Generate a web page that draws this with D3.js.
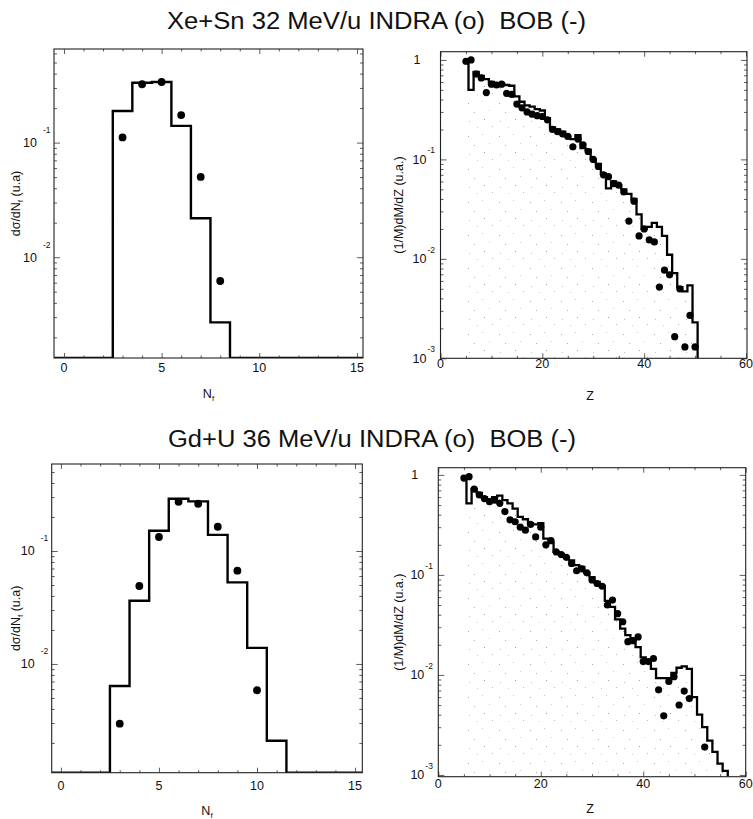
<!DOCTYPE html>
<html>
<head>
<meta charset="utf-8">
<script src="https://cdn.jsdelivr.net/npm/d3@7"></script>
<style>
body { margin: 0; background: #fff; }
text { font-family: "Liberation Sans", Arial, Helvetica, sans-serif; fill: #111; }
</style>
</head>
<body>
<svg id="fig" width="753" height="819"></svg>
<script>
// ---- data ----
var titles = ["Xe+Sn 32 MeV/u INDRA (o)  BOB (-)", "Gd+U 36 MeV/u INDRA (o)  BOB (-)"];

// fragment multiplicity N_f (bins 0..15)
var nf = [0, 1, 2, 3, 4, 5, 6, 7, 8, 9, 10, 11, 12, 13, 14, 15];
var xeNfSim = [0, 0, 0, 0.189, 0.333, 0.338, 0.14, 0.0219, 0.0027, 0, 0, 0, 0, 0, 0, 0];
var xeNfPts = [3, 4, 5, 6, 7, 8];
var xeNfExp = [0.111, 0.323, 0.338, 0.174, 0.0502, 0.0062];

var gdNfSim = [0, 0, 0, 0.00638, 0.0363, 0.151, 0.29, 0.275, 0.139, 0.0528, 0.01387, 0.00209, 0, 0, 0, 0];
var gdNfPts = [3, 4, 5, 6, 7, 8, 9, 10];
var gdNfExp = [0.00296, 0.049, 0.133, 0.273, 0.262, 0.164, 0.067, 0.00585];

// charge distributions
var xeZ = [5, 6, 7, 8, 9, 10, 11, 12, 13, 14, 15, 16, 17, 18, 19, 20, 21, 22, 23, 24, 25, 26, 27,
           28, 29, 30, 31, 32, 33, 34, 35, 36, 37, 38, 39, 40, 41, 42, 43, 44, 45, 46, 47, 48, 49, 50];
var xeZSim = [0.93, 0.5, 0.76, 0.69, 0.64, 0.6, 0.58, 0.58, 0.56, 0.55,
              0.43, 0.38, 0.35, 0.34, 0.32, 0.31, 0.26, 0.21, 0.2, 0.19,
              0.17, 0.16, 0.175, 0.13, 0.125, 0.1, 0.09, 0.072, 0.051, 0.06,
              0.055, 0.05, 0.045, 0.04, 0.028, 0.02, 0.021, 0.023, 0.021, 0.017,
              0.011, 0.0072, 0.0052, 0.0047, 0.0054, 0.0023];
var xeZExp = [0.97, 1.0, 0.72, 0.66, 0.47, 0.57, 0.56, 0.57, 0.46, 0.45,
              0.36, 0.33, 0.30, 0.285, 0.275, 0.27, 0.25, 0.2, 0.19, 0.18,
              0.17, 0.134, 0.16, 0.14, 0.12, 0.1, 0.085, 0.07, 0.067, 0.057,
              0.055, 0.047, 0.024, 0.038, 0.017, 0.020, 0.0155, 0.0148, 0.0052, 0.0077,
              0.0069, 0.00165, 0.0050, 0.0013, 0.0027, 0.0013];

var gdZ = [5, 6, 7, 8, 9, 10, 11, 12, 13, 14, 15, 16, 17, 18, 19, 20, 21, 22, 23, 24, 25, 26, 27, 28, 29, 30,
           31, 32, 33, 34, 35, 36, 37, 38, 39, 40, 41, 42, 43, 44, 45, 46, 47, 48, 49, 50, 51, 52, 53, 54, 55, 56];
var gdZSim = [0.9, 0.52, 0.72, 0.66, 0.6, 0.57, 0.6, 0.62, 0.56, 0.52,
              0.46, 0.38, 0.36, 0.33, 0.32, 0.33, 0.23, 0.21, 0.17, 0.16,
              0.15, 0.14, 0.125, 0.12, 0.105, 0.095, 0.085, 0.077, 0.055, 0.048,
              0.036, 0.029, 0.025, 0.023, 0.019, 0.015, 0.014, 0.0115, 0.0093, 0.0093,
              0.0093, 0.0105, 0.0118, 0.0122, 0.0115, 0.006, 0.004, 0.003, 0.0022, 0.0017,
              0.0013, 0.0011];
var gdZPts = [5, 6, 7, 8, 9, 10, 11, 12, 13, 14, 15, 16, 17, 18, 19, 20, 21, 22, 23, 24, 25, 26, 27,
              28, 29, 30, 31, 32, 33, 34, 35, 36, 37, 38, 39, 40, 41, 42, 43, 44, 45, 46, 47, 48, 49, 52];
var gdZExp = [0.93, 0.96, 0.72, 0.63, 0.58, 0.54, 0.56, 0.52, 0.43, 0.355,
              0.34, 0.30, 0.28, 0.32, 0.24, 0.30, 0.2, 0.22, 0.17, 0.16,
              0.15, 0.13, 0.11, 0.115, 0.105, 0.089, 0.082, 0.077, 0.05, 0.056,
              0.041, 0.034, 0.0215, 0.022, 0.024, 0.0136, 0.0136, 0.0146, 0.0071, 0.0039,
              0.0086, 0.0096, 0.005, 0.0069, 0.0058, 0.0019];

var nfTicks = [0, 5, 10, 15];
var zTicks = [0, 20, 40, 60];
var zMinor = [5, 10, 15, 25, 30, 35, 45, 50, 55];

var svg = d3.select("#fig");
var defs = svg.append("defs");

// sparse stipple under the Z histograms (the grey tone of the scan)
var stipDots = [[3, 4, "#a8a8a8"], [17, 2, "#c8c8c8"], [9, 13, "#b0b0b0"], [24, 11, "#d0d0d0"],
                [4, 22, "#c0c0c0"], [19, 20, "#a0a0a0"], [12, 28, "#cccccc"], [27, 27, "#b8b8b8"]];
var pat = defs.append("pattern")
    .attr("id", "stip").attr("patternUnits", "userSpaceOnUse")
    .attr("width", 31).attr("height", 33);
pat.selectAll("rect").data(stipDots).enter().append("rect")
    .attr("x", function (d) { return d[0]; }).attr("y", function (d) { return d[1]; })
    .attr("width", 1).attr("height", 1)
    .attr("fill", function (d) { return d[2]; });

// titles
svg.append("text").attr("x", 167).attr("y", 29)
    .attr("font-size", 23.5).attr("textLength", 419).attr("lengthAdjust", "spacingAndGlyphs")
    .style("white-space", "pre").text(titles[0]);
svg.append("text").attr("x", 168).attr("y", 447)
    .attr("font-size", 23.5).attr("textLength", 408).attr("lengthAdjust", "spacingAndGlyphs")
    .style("white-space", "pre").text(titles[1]);

var panelId = 0;

function frameAndTicks(g, x, y, box, xMajor, xMinor) {
    var yMajor = y.ticks().filter(function (t) { return Math.abs(Math.log10(t) - Math.round(Math.log10(t))) < 1e-6; });
    var yMinor = y.ticks().filter(function (t) { return yMajor.indexOf(t) < 0; });

    var axes = [
        [d3.axisLeft(y).tickValues(yMajor).tickSize(-6), "translate(" + box.x0 + ",0)"],
        [d3.axisLeft(y).tickValues(yMinor).tickSize(-3), "translate(" + box.x0 + ",0)"],
        [d3.axisRight(y).tickValues(yMajor).tickSize(-6), "translate(" + box.x1 + ",0)"],
        [d3.axisRight(y).tickValues(yMinor).tickSize(-3), "translate(" + box.x1 + ",0)"],
        [d3.axisBottom(x).tickValues(xMajor).tickSize(-5), "translate(0," + box.y1 + ")"],
        [d3.axisBottom(x).tickValues(xMinor).tickSize(-2.5), "translate(0," + box.y1 + ")"],
        [d3.axisTop(x).tickValues(xMajor).tickSize(-5), "translate(0," + box.y0 + ")"],
        [d3.axisTop(x).tickValues(xMinor).tickSize(-2.5), "translate(0," + box.y0 + ")"]
    ];
    axes.forEach(function (a) {
        var ax = g.append("g").attr("transform", a[1]).call(a[0].tickFormat(""));
        ax.select(".domain").remove();
        ax.selectAll("line").attr("stroke", "#333").attr("stroke-width", 0.8);
    });

    g.append("rect")
        .attr("x", box.x0).attr("y", box.y0)
        .attr("width", box.x1 - box.x0).attr("height", box.y1 - box.y0)
        .attr("fill", "none").attr("stroke", "#222").attr("stroke-width", 1.1);
}

function yLabels(g, y, box, opt) {
    y.ticks().forEach(function (t) {
        var e = Math.round(Math.log10(t));
        if (Math.abs(Math.log10(t) - e) > 1e-6) return;
        var ty = y(t);
        if (e === 0) {
            g.append("text").attr("x", box.x0 - opt.oneDx).attr("y", ty + 4)
                .attr("text-anchor", "end").attr("font-size", 12.5).text("1");
            return;
        }
        g.append("text").attr("x", box.x0 - opt.tenDx).attr("y", ty + 4.5)
            .attr("text-anchor", "end").attr("font-size", 12.5).text("10");
        g.append("text").attr("x", box.x0 - opt.expDx).attr("y", ty - opt.expDy)
            .attr("font-size", 8.5).text(String(e));
    });
}

function xLabels(g, x, box, ticks, baseY) {
    g.selectAll(".xl").data(ticks).enter().append("text")
        .attr("x", function (d) { return x(d); })
        .attr("y", baseY)
        .attr("text-anchor", "middle").attr("font-size", 12.5)
        .text(function (d) { return d; });
}

function clipFor(box) {
    var id = "clip" + (panelId++);
    defs.append("clipPath").attr("id", id)
        .append("rect").attr("x", box.x0).attr("y", box.y0)
        .attr("width", box.x1 - box.x0).attr("height", box.y1 - box.y0);
    return "url(#" + id + ")";
}

function nfPanel(box, xDom, yDom, sim, pts, exp, labY, titleY) {
    var g = svg.append("g");
    var x = d3.scaleLinear().domain(xDom).range([box.x0, box.x1]);
    var y = d3.scaleLog().domain(yDom).range([box.y1, box.y0]);
    var lo = yDom[0];

    // histogram, empty bins sit on the bottom edge
    var steps = [];
    nf.forEach(function (n, i) {
        var v = Math.max(sim[i], lo);
        steps.push([n - 0.5, v], [n + 0.5, v]);
    });
    var line = d3.line().x(function (d) { return x(d[0]); }).y(function (d) { return y(d[1]); });
    g.append("path").attr("d", line(steps)).attr("clip-path", clipFor(box))
        .attr("fill", "none").attr("stroke", "#000").attr("stroke-width", 2.4)
        .attr("stroke-linejoin", "miter");

    frameAndTicks(g, x, y, box, nfTicks, nf.filter(function (n) { return nfTicks.indexOf(n) < 0; }));

    g.selectAll("circle").data(pts).enter().append("circle")
        .attr("cx", function (d) { return x(d); })
        .attr("cy", function (d, i) { return y(exp[i]); })
        .attr("r", 3.9).attr("fill", "#000");

    yLabels(g, y, box, { oneDx: 20, tenDx: 17, expDx: 11, expDy: 9.5 });
    xLabels(g, x, box, nfTicks, labY);

    var cx = (box.x0 + box.x1) / 2, cy = (box.y0 + box.y1) / 2;
    var yt = g.append("text").attr("transform", "translate(20," + cy + ") rotate(-90)")
        .attr("text-anchor", "middle").attr("font-size", 12.5);
    yt.append("tspan").text("d\u03c3/dN");
    yt.append("tspan").attr("font-size", 8).attr("dy", 3).text("f");
    yt.append("tspan").attr("dy", -3).text(" (u.a)");

    var xt = g.append("text").attr("x", cx).attr("y", titleY)
        .attr("text-anchor", "middle").attr("font-size", 12.5);
    xt.append("tspan").text("N");
    xt.append("tspan").attr("font-size", 8).attr("dy", 3).text("f");
}

function zPanel(box, xDom, yDom, zs, sim, pts, exp, labY, titleY) {
    var g = svg.append("g");
    var x = d3.scaleLinear().domain(xDom).range([box.x0, box.x1]);
    var y = d3.scaleLog().domain(yDom).range([box.y1, box.y0]);
    var lo = yDom[0];

    var steps = [[zs[0], sim[0]]];
    zs.forEach(function (z, i) {
        steps.push([z + 0.5, sim[i]]);
        steps.push([z + 0.5, i + 1 < zs.length ? sim[i + 1] : lo]);
    });
    var line = d3.line().x(function (d) { return x(d[0]); }).y(function (d) { return y(d[1]); });
    var clip = clipFor(box);

    var under = steps.concat([[zs[0], lo]]);
    g.append("path").attr("d", line(under) + "Z").attr("clip-path", clip)
        .attr("fill", "url(#stip)").attr("stroke", "none");

    g.append("path").attr("d", line(steps)).attr("clip-path", clip)
        .attr("fill", "none").attr("stroke", "#000").attr("stroke-width", 2.3)
        .attr("stroke-linejoin", "miter");

    frameAndTicks(g, x, y, box, zTicks, zMinor);

    g.selectAll("circle").data(pts).enter().append("circle")
        .attr("cx", function (d) { return x(d); })
        .attr("cy", function (d, i) { return y(exp[i]); })
        .attr("r", 3.6).attr("fill", "#000");

    yLabels(g, y, box, { oneDx: 20, tenDx: 14, expDx: 13, expDy: 6 });
    xLabels(g, x, box, zTicks, labY);

    var cy = (box.y0 + box.y1) / 2;
    g.append("text").attr("transform", "translate(403," + cy + ") rotate(-90)")
        .attr("text-anchor", "middle").attr("font-size", 12.5).text("(1/M)dM/dZ (u.a.)");
    g.append("text").attr("x", 590).attr("y", titleY)
        .attr("text-anchor", "middle").attr("font-size", 12.5).text("Z");
}

nfPanel({ x0: 54, x1: 363, y0: 49, y1: 358 }, [-0.51, 15.31], [0.00132, 0.656],
        xeNfSim, xeNfPts, xeNfExp, 372, 398);
zPanel({ x0: 440.5, x1: 747, y0: 51.7, y1: 358.3 }, [0, 60.2], [0.001, 1.21],
       xeZ, xeZSim, xeZ, xeZExp, 368, 400);
nfPanel({ x0: 51.7, x1: 362.3, y0: 464, y1: 772.7 }, [-0.47, 15.37], [0.00109, 0.589],
        gdNfSim, gdNfPts, gdNfExp, 790, 815);
zPanel({ x0: 438.3, x1: 745.7, y0: 467.7, y1: 776.7 }, [0, 60], [0.00096, 1.18],
       gdZ, gdZSim, gdZPts, gdZExp, 788, 813);
</script>
</body>
</html>
